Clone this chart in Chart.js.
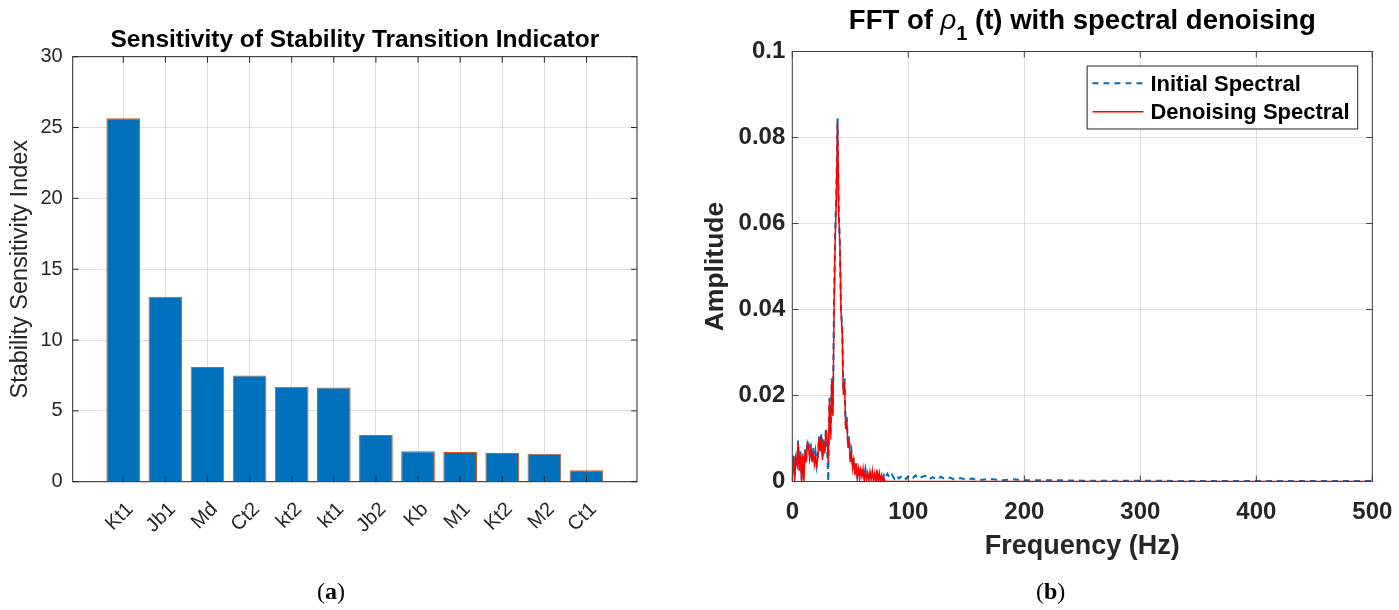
<!DOCTYPE html>
<html>
<head>
<meta charset="utf-8">
<title>Sensitivity and FFT</title>
<script src="https://cdn.jsdelivr.net/npm/chart.js@4.4.1/dist/chart.umd.min.js"></script>
<style>
  html, body { margin: 0; padding: 0; background: #fff; }
  #wrap { position: relative; width: 1399px; height: 610px; overflow: hidden; }
  .box { position: absolute; top: 0; height: 610px; }
  #boxA { left: 0; width: 700px; }
  #boxB { left: 700px; width: 699px; }
  .cap { position: absolute; top: 579px; line-height: 1; font-family: "Liberation Serif", "DejaVu Serif", serif; font-size: 24px; color: #000; }
  #capA { left: 317px; }
  #capB { left: 1036px; }
</style>
</head>
<body>
<div id="wrap">
  <div class="box" id="boxA"><canvas id="sens"></canvas></div>
  <div class="box" id="boxB"><canvas id="fft"></canvas></div>
  <div class="cap" id="capA">(<b>a</b>)</div>
  <div class="cap" id="capB">(<b>b</b>)</div>
</div>
<script>
// (a) sensitivity bars
const paramNames = ['Kt1', 'Jb1', 'Md', 'Ct2', 'kt2', 'kt1', 'Jb2', 'Kb', 'M1', 'Kt2', 'M2', 'Ct1'];
const sensIndex = [25.65, 13.05, 8.1, 7.5, 6.7, 6.65, 3.3, 2.15, 2.1, 2.03, 1.97, 0.8];
const sensTicks = [0, 5, 10, 15, 20, 25, 30];

// (b) spectra (Hz / amplitude)
const freqHz = [
  0, 1, 2, 3, 4, 5, 6, 7, 8, 9,
  10, 11, 12, 13, 14, 15, 16, 17, 18, 19,
  20, 21, 22, 23, 24, 25, 26, 27, 28, 29,
  30, 31, 32, 33, 34, 35, 36, 37, 38, 39,
  40, 41, 42, 43, 44, 45, 46, 47, 48, 49,
  50, 51, 52, 53, 54, 55, 56, 57, 58, 59,
  60, 61, 62, 63, 64, 65, 66, 67, 68, 69,
  70, 71, 72, 73, 74, 75, 76, 77, 78, 79,
  80, 82, 84, 86, 88, 90, 92, 95, 98, 100,
  103, 106, 109, 112, 115, 118, 121, 125, 128,
  132, 136, 140, 145, 150, 155, 160, 170, 180,
  190, 200, 225, 250, 300, 350, 400, 450, 500
];
const initialAmp = [
  0.002, 0.0065, 0.001, 0.006, 0.0045, 0.0095, 0.003, 0.007, 0.0005, 0.0065,
  0.0035, 0.0075, 0.005, 0.0095, 0.0085, 0.006, 0.0088, 0.005, 0.0078, 0.0045,
  0.0068, 0.0038, 0.0062, 0.0105, 0.0075, 0.0112, 0.0055, 0.0098, 0.007, 0.0125,
  0.008, 0.0, 0.0195, 0.0105, 0.024, 0.016, 0.042, 0.058, 0.068, 0.0845,
  0.0635, 0.056, 0.04, 0.036, 0.021, 0.024, 0.013, 0.015, 0.0085, 0.0105,
  0.005, 0.007, 0.0035, 0.0055, 0.002, 0.0045, 0.0015, 0.0035, 0.001, 0.003,
  0.0018, 0.0032, 0.001, 0.0028, 0.0008, 0.0022, 0.001, 0.0018, 0.0006, 0.0016,
  0.0009, 0.0015, 0.0005, 0.0013, 0.0007, 0.0014, 0.0004, 0.0012, 0.0006, 0.0015,
  0.0008, 0.0018, 0.0008, 0.0016, 0.0006, 0.0014, 0.0007, 0.0015, 0.0006, 0.0012,
  0.0005, 0.0014, 0.0006, 0.0011, 0.0013, 0.0005, 0.001, 0.0004, 0.0011,
  0.0005, 0.0009, 0.0004, 0.0008, 0.0004, 0.0007, 0.0003, 0.0006, 0.0003,
  0.0005, 0.0003, 0.0003, 0.0002, 0.0002, 0.0001, 0.0001, 0.0001, 0.0001
];
const denoisedAmp = [
  0.0015, 0.006, 0, 0.0055, 0.004, 0.009, 0.0025, 0.0065, 0, 0.006,
  0, 0.007, 0.0045, 0.009, 0.008, 0.0055, 0.0082, 0.0045, 0.0072, 0.004,
  0.0062, 0.0032, 0.0058, 0.01, 0.007, 0.0108, 0.005, 0.0092, 0.0065, 0.012,
  0.0098, 0.0045, 0.0188, 0.0098, 0.0232, 0.0152, 0.0405, 0.0565, 0.0665, 0.0838,
  0.0625, 0.0548, 0.0395, 0.0352, 0.0202, 0.0232, 0.0122, 0.0142, 0.0078, 0.0098,
  0.0045, 0.0065, 0.003, 0.005, 0.0015, 0.004, 0.001, 0.003, 0.0005, 0.0028,
  0.0012, 0.003, 0, 0.0025, 0.0005, 0.002, 0, 0.0022, 0.0004, 0.0025,
  0, 0.0018, 0, 0.0028, 0, 0.002, 0, 0.0015, 0, 0.0008,
  0, 0, 0, 0, 0, 0, 0, 0, 0, 0,
  0, 0, 0, 0, 0, 0, 0, 0, 0,
  0, 0, 0, 0, 0, 0, 0, 0, 0,
  0, 0, 0, 0, 0, 0, 0, 0, 0
];
const freqTicks = [0, 100, 200, 300, 400, 500];
const ampTicks = [0, 0.02, 0.04, 0.06, 0.08, 0.1];

const FONT = '"Liberation Sans", Arial, sans-serif';
const INK = '#262626';
const GRID = 'rgba(38,38,38,0.15)';
const NONE = 'rgba(0,0,0,0)';

// Matlab style box with inward ticks on all four sides

function boxFrame(color, width) {
  return {
    id: 'boxFrame',
    afterDatasetsDraw(chart) {
      const { ctx, chartArea: a, scales } = chart;
      ctx.save();
      ctx.strokeStyle = color;
      ctx.lineWidth = width;
      ctx.strokeRect(a.left, a.top, a.right - a.left, a.bottom - a.top);
      ctx.beginPath();
      scales.x.ticks.forEach((t) => {
        const px = scales.x.getPixelForValue(t.value);
        ctx.moveTo(px, a.bottom); ctx.lineTo(px, a.bottom - 6);
        ctx.moveTo(px, a.top); ctx.lineTo(px, a.top + 6);
      });
      scales.y.ticks.forEach((t) => {
        const py = scales.y.getPixelForValue(t.value);
        ctx.moveTo(a.left, py); ctx.lineTo(a.left + 6, py);
        ctx.moveTo(a.right, py); ctx.lineTo(a.right - 6, py);
      });
      ctx.stroke();
      ctx.restore();
    }
  };
}

const titleA = {
  id: 'titleA',
  afterDraw(chart) {
    const { ctx, chartArea: a } = chart;
    ctx.save();
    ctx.font = 'bold 24.5px ' + FONT;
    ctx.fillStyle = '#000';
    ctx.textAlign = 'center';
    ctx.textBaseline = 'alphabetic';
    ctx.fillText('Sensitivity of Stability Transition Indicator', (a.left + a.right) / 2, a.top - 9.4);
    ctx.restore();
  }
};

// title with the rho subscript
const titleB = {
  id: 'titleB',
  afterDraw(chart) {
    const { ctx, chartArea: a } = chart;
    const parts = [
      { t: 'FFT of ', f: 'bold 27.5px ' + FONT, dy: 0 },
      { t: 'ρ', f: 'italic 27.5px ' + FONT, dy: 0 },
      { t: '1', f: 'bold 20px ' + FONT, dy: 11 },
      { t: ' (t) with spectral denoising', f: 'bold 27.5px ' + FONT, dy: 0 }
    ];
    ctx.save();
    let total = 0;
    parts.forEach((p) => { ctx.font = p.f; p.w = ctx.measureText(p.t).width; total += p.w; });
    let x = (a.left + a.right) / 2 - total / 2;
    const base = a.top - 22.2;
    ctx.fillStyle = '#000';
    ctx.textAlign = 'left';
    ctx.textBaseline = 'alphabetic';
    parts.forEach((p) => {
      ctx.font = p.f;
      ctx.fillText(p.t, x, base + p.dy);
      x += p.w;
    });
    ctx.restore();
  }
};

const legendB = {
  id: 'legendB',
  afterDraw(chart) {
    const { ctx, chartArea: a } = chart;
    const ds = chart.data.datasets;
    ctx.save();
    ctx.font = 'bold 22px ' + FONT;
    const textW = Math.max(...ds.map((d) => ctx.measureText(d.label).width));
    const w = 5.3 + 51 + 7 + textW + 8;
    const h = 63;
    const right = a.right - 14.6;
    const top = a.top + 14.5;
    const left = right - w;
    ctx.fillStyle = '#fff';
    ctx.fillRect(left, top, w, h);
    ctx.strokeStyle = INK;
    ctx.lineWidth = 1;
    ctx.strokeRect(left, top, w, h);
    ds.forEach((d, i) => {
      const y = top + 17.3 + i * 28.4;
      ctx.beginPath();
      ctx.setLineDash(d.borderDash || []);
      ctx.strokeStyle = d.borderColor;
      ctx.lineWidth = Math.min(d.borderWidth, 2);
      ctx.moveTo(left + 5.3, y);
      ctx.lineTo(left + 56.3, y);
      ctx.stroke();
      ctx.setLineDash([]);
      ctx.fillStyle = '#000';
      ctx.textAlign = 'left';
      ctx.textBaseline = 'alphabetic';
      ctx.fillText(d.label, left + 63.3, y + 7.5);
    });
    ctx.restore();
  }
};

// Chart (a)

new Chart(document.getElementById('sens'), {
  type: 'bar',
  data: {
    datasets: [{
      data: paramNames.map((n, i) => ({ x: i, y: sensIndex[i] })),
      backgroundColor: '#0072BD',
      borderColor: '#D95319',
      borderWidth: 1,
      barPercentage: 0.8,
      categoryPercentage: 1
    }]
  },
  options: {
    responsive: true,
    maintainAspectRatio: false,
    animation: false,
    events: [],
    layout: { padding: { left: 0, top: 56.7, right: 63, bottom: 0 } },
    plugins: { legend: { display: false }, tooltip: { enabled: false } },
    scales: {
      x: {
        type: 'linear', min: -1.2, max: 12.2, offset: false,
        afterBuildTicks: (s) => { s.ticks = paramNames.map((n, i) => ({ value: i })); },
        afterFit: (s) => { s.height = 128.3; },
        grid: { color: GRID, drawTicks: false, offset: false },
        border: { display: false },
        ticks: {
          autoSkip: false, minRotation: 45, maxRotation: 45, padding: 16, labelOffset: 7,
          color: INK, font: { family: FONT, size: 20 },
          callback: (v) => paramNames[v]
        }
      },
      y: {
        min: 0, max: 30,
        afterBuildTicks: (s) => { s.ticks = sensTicks.map((v) => ({ value: v })); },
        afterFit: (s) => { s.width = 72.7; },
        grid: { color: GRID, drawTicks: false },
        border: { display: false },
        ticks: { padding: 10, color: INK, font: { family: FONT, size: 20 } },
        title: {
          display: true, text: 'Stability Sensitivity Index', color: INK,
          font: { family: FONT, size: 23.5 }, padding: { top: 6.4, bottom: 0 }
        }
      }
    }
  },
  plugins: [boxFrame(INK, 1), titleA]
});

// Chart (b)  -- red denoised spectrum drawn over the dashed one

new Chart(document.getElementById('fft'), {
  type: 'line',
  data: {
    datasets: [
      {
        label: 'Initial Spectral',
        data: freqHz.map((f, i) => ({ x: f, y: initialAmp[i] })),
        borderColor: '#0072BD', borderWidth: 2, borderDash: [6, 5],
        pointRadius: 0, fill: false, tension: 0, order: 2
      },
      {
        label: 'Denoising Spectral',
        data: freqHz.map((f, i) => ({ x: f, y: denoisedAmp[i] })),
        borderColor: '#FF0000', borderWidth: 1.5,
        pointRadius: 0, fill: false, tension: 0, order: 1
      }
    ]
  },
  options: {
    responsive: true,
    maintainAspectRatio: false,
    animation: false,
    events: [],
    layout: { padding: { left: 0, top: 51.5, right: 26.7, bottom: 0 } },
    plugins: { legend: { display: false }, tooltip: { enabled: false } },
    scales: {
      x: {
        type: 'linear', min: 0, max: 500,
        afterBuildTicks: (s) => { s.ticks = freqTicks.map((v) => ({ value: v })); },
        afterFit: (s) => { s.height = 128.5; },
        // invisible tick marks push the labels down without widening the side padding
        grid: { color: GRID, drawTicks: true, tickLength: 16, tickColor: NONE },
        border: { display: false },
        ticks: { maxRotation: 0, padding: 0, color: INK, font: { family: FONT, size: 24, weight: 'bold' } },
        title: {
          display: true, text: 'Frequency (Hz)', color: INK,
          font: { family: FONT, size: 27, weight: 'bold' }, padding: { top: 0, bottom: 47 }
        }
      },
      y: {
        min: 0, max: 0.1,
        afterBuildTicks: (s) => { s.ticks = ampTicks.map((v) => ({ value: v })); },
        afterFit: (s) => { s.width = 92.3; },
        grid: { color: GRID, drawTicks: false },
        border: { display: false },
        ticks: {
          padding: 7, color: INK, font: { family: FONT, size: 24, weight: 'bold' },
          callback: (v) => String(Math.round(v * 100) / 100)
        },
        title: {
          display: true, text: 'Amplitude', color: INK,
          font: { family: FONT, size: 26.5, weight: 'bold' }, padding: { top: 0, bottom: 0 }
        }
      }
    }
  },
  plugins: [boxFrame('#404040', 1), legendB, titleB]
});
</script>
</body>
</html>
